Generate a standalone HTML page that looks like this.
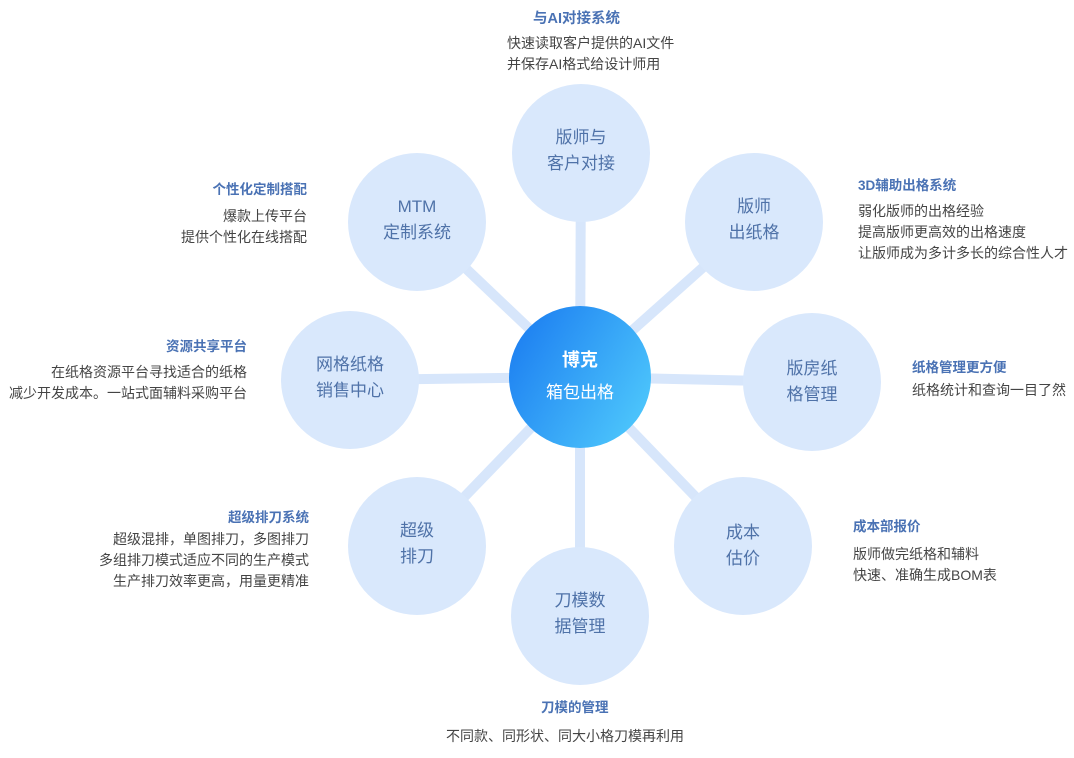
<!DOCTYPE html>
<html><head><meta charset="utf-8"><style>
body{margin:0;width:1074px;height:758px;background:#fff;position:relative;overflow:hidden;font-family:"Liberation Sans","Noto Sans CJK SC",sans-serif;}
.t{position:absolute;font-size:13.5px;font-weight:bold;color:#4a72b4;white-space:nowrap;line-height:16px}
.b{position:absolute;font-size:14px;color:#444;white-space:nowrap;line-height:21px}
.r{text-align:right}
.c{position:absolute;width:140px;text-align:center;font-size:17px;color:#4f72a8;line-height:26px}
</style></head><body>
<svg width="1074" height="758" style="position:absolute;left:0;top:0">
<defs><linearGradient id="g" x1="0" y1="0" x2="1" y2="0.6"><stop offset="0" stop-color="#1878f0"/><stop offset="1" stop-color="#4ac2fb"/></linearGradient></defs>
<g stroke="#d7e6fb" stroke-width="10">
<line x1="580" y1="377" x2="581" y2="153"/><line x1="580" y1="377" x2="754" y2="222"/>
<line x1="580" y1="377" x2="812" y2="382"/><line x1="580" y1="377" x2="743" y2="546"/>
<line x1="580" y1="377" x2="580" y2="616"/><line x1="580" y1="377" x2="417" y2="546"/>
<line x1="580" y1="377" x2="350" y2="380"/><line x1="580" y1="377" x2="417" y2="222"/>
</g>
<g fill="#d9e8fc">
<circle cx="581" cy="153" r="69"/><circle cx="754" cy="222" r="69"/><circle cx="812" cy="382" r="69"/><circle cx="743" cy="546" r="69"/>
<circle cx="580" cy="616" r="69"/><circle cx="417" cy="546" r="69"/><circle cx="350" cy="380" r="69"/><circle cx="417" cy="222" r="69"/>
</g>
<circle cx="580" cy="377" r="71" fill="url(#g)"/>
</svg>
<div class="c" style="left:510px;top:347px;color:#fff;font-size:18px;font-weight:bold">博克</div>
<div class="c" style="left:510px;top:380px;color:#fff">箱包出格</div>
<div class="c" style="left:511px;top:125px">版师与<br>客户对接</div>
<div class="c" style="left:684px;top:194px">版师<br>出纸格</div>
<div class="c" style="left:742px;top:356px">版房纸<br>格管理</div>
<div class="c" style="left:673px;top:520px">成本<br>估价</div>
<div class="c" style="left:510px;top:588px">刀模数<br>据管理</div>
<div class="c" style="left:347px;top:518px">超级<br>排刀</div>
<div class="c" style="left:280px;top:352px">网格纸格<br>销售中心</div>
<div class="c" style="left:347px;top:194px">MTM<br>定制系统</div>

<div class="t" style="left:533px;top:11px;font-size:14.5px">与AI对接系统</div>
<div class="b" style="left:507px;top:33px">快速读取客户提供的AI文件<br>并保存AI格式给设计师用</div>
<div class="t r" style="right:767px;top:182px">个性化定制搭配</div>
<div class="b r" style="right:767px;top:206px">爆款上传平台<br>提供个性化在线搭配</div>
<div class="t" style="left:858px;top:178px">3D辅助出格系统</div>
<div class="b" style="left:858px;top:201px">弱化版师的出格经验<br>提高版师更高效的出格速度<br>让版师成为多计多长的综合性人才</div>
<div class="t r" style="right:827px;top:339px">资源共享平台</div>
<div class="b r" style="right:827px;top:362px">在纸格资源平台寻找适合的纸格<br>减少开发成本。一站式面辅料采购平台</div>
<div class="t" style="left:912px;top:360px">纸格管理更方便</div>
<div class="b" style="left:912px;top:380px">纸格统计和查询一目了然</div>
<div class="t r" style="right:765px;top:510px">超级排刀系统</div>
<div class="b r" style="right:765px;top:529px">超级混排，单图排刀，多图排刀<br>多组排刀模式适应不同的生产模式<br>生产排刀效率更高，用量更精准</div>
<div class="t" style="left:853px;top:519px">成本部报价</div>
<div class="b" style="left:853px;top:544px">版师做完纸格和辅料<br>快速、准确生成BOM表</div>
<div class="t" style="left:541px;top:700px">刀模的管理</div>
<div class="b" style="left:446px;top:726px">不同款、同形状、同大小格刀模再利用</div>
</body></html>
